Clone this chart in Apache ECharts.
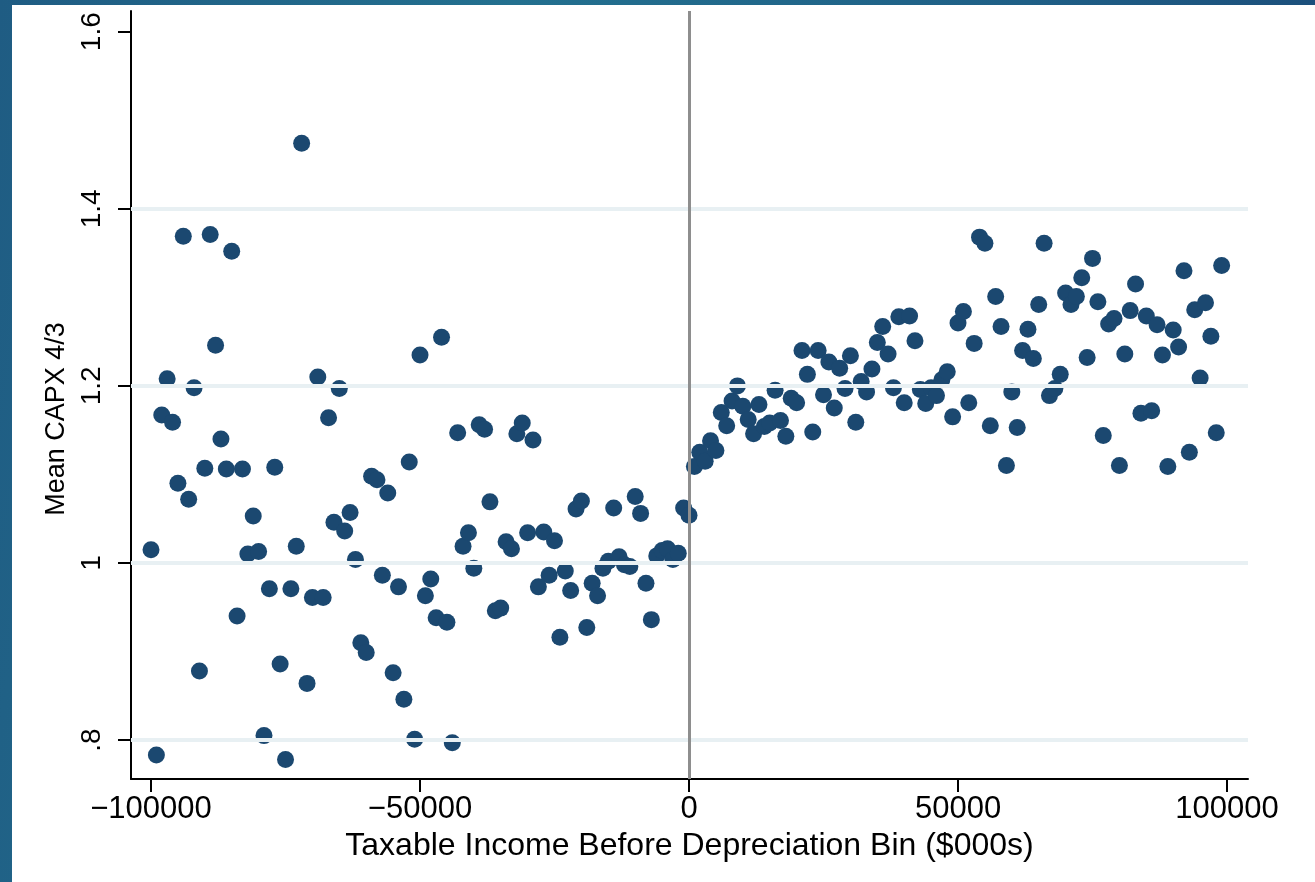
<!DOCTYPE html>
<html>
<head>
<meta charset="utf-8">
<title>Mean CAPX 4/3 by taxable income bin</title>
<script src="https://cdn.jsdelivr.net/npm/echarts@6/dist/echarts.min.js"></script>
<style>
  html, body { margin: 0; padding: 0; }
  body {
    width: 1315px; height: 882px; overflow: hidden; position: relative;
    background: linear-gradient(100deg, #1f5c83 0%, #23708f 35%, #1f5f86 70%, #1a4776 100%);
  }
  #panel { position: absolute; left: 12px; top: 5px; right: 0; bottom: 0; background: #ffffff; }
  #chart { position: absolute; left: 0; top: 0; width: 1315px; height: 882px; }
</style>
</head>
<body>
<div id="panel"></div>
<div id="chart"></div>
<script>
// bins of taxable income before depreciation ($000s)
const incomeBins = [
  -100000, -99000, -98000, -97000, -96000, -95000, -94000, -93000, -92000, -91000,
  -90000, -89000, -88000, -87000, -86000, -85000, -84000, -83000, -82000, -81000,
  -80000, -79000, -78000, -77000, -76000, -75000, -74000, -73000, -72000, -71000,
  -70000, -69000, -68000, -67000, -66000, -65000, -64000, -63000, -62000, -61000,
  -60000, -59000, -58000, -57000, -56000, -55000, -54000, -53000, -52000, -51000,
  -50000, -49000, -48000, -47000, -46000, -45000, -44000, -43000, -42000, -41000,
  -40000, -39000, -38000, -37000, -36000, -35000, -34000, -33000, -32000, -31000,
  -30000, -29000, -28000, -27000, -26000, -25000, -24000, -23000, -22000, -21000,
  -20000, -19000, -18000, -17000, -16000, -15000, -14000, -13000, -12000, -11000,
  -10000, -9000, -8000, -7000, -6000, -5000, -4000, -3000, -2000, -1000,
  0, 1000, 2000, 3000, 4000, 5000, 6000, 7000, 8000, 9000,
  10000, 11000, 12000, 13000, 14000, 15000, 16000, 17000, 18000, 19000,
  20000, 21000, 22000, 23000, 24000, 25000, 26000, 27000, 28000, 29000,
  30000, 31000, 32000, 33000, 34000, 35000, 36000, 37000, 38000, 39000,
  40000, 41000, 42000, 43000, 44000, 45000, 46000, 47000, 48000, 49000,
  50000, 51000, 52000, 53000, 54000, 55000, 56000, 57000, 58000, 59000,
  60000, 61000, 62000, 63000, 64000, 65000, 66000, 67000, 68000, 69000,
  70000, 71000, 72000, 73000, 74000, 75000, 76000, 77000, 78000, 79000,
  80000, 81000, 82000, 83000, 84000, 85000, 86000, 87000, 88000, 89000,
  90000, 91000, 92000, 93000, 94000, 95000, 96000, 97000, 98000, 99000
];

// mean CAPX 4/3 in each bin
const meanCapx = [
  1.015, 0.783, 1.167, 1.208, 1.159, 1.090, 1.369, 1.072, 1.198, 0.878,
  1.107, 1.371, 1.246, 1.140, 1.106, 1.352, 0.940, 1.106, 1.010, 1.053,
  1.013, 0.805, 0.971, 1.108, 0.886, 0.778, 0.971, 1.019, 1.474, 0.864,
  0.961, 1.210, 0.961, 1.164, 1.046, 1.197, 1.036, 1.057, 1.004, 0.910,
  0.899, 1.098, 1.094, 0.986, 1.079, 0.876, 0.973, 0.846, 1.114, 0.801,
  1.235, 0.963, 0.982, 0.938, 1.255, 0.933, 0.797, 1.147, 1.019, 1.034,
  0.994, 1.156, 1.151, 1.069, 0.946, 0.949, 1.024, 1.016, 1.146, 1.158,
  1.034, 1.139, 0.973, 1.035, 0.986, 1.025, 0.916, 0.991, 0.969, 1.061,
  1.070, 0.927, 0.977, 0.963, 0.994, 1.002, 1.062, 1.007, 0.998, 0.996,
  1.075, 1.056, 0.977, 0.936, 1.008, 1.014, 1.016, 1.004, 1.011, 1.062,
  1.054, 1.109, 1.125, 1.115, 1.138, 1.127, 1.170, 1.155, 1.183, 1.200,
  1.177, 1.162, 1.146, 1.179, 1.154, 1.158, 1.195, 1.161, 1.143, 1.186,
  1.181, 1.240, 1.213, 1.148, 1.240, 1.190, 1.227, 1.175, 1.220, 1.197,
  1.234, 1.159, 1.205, 1.193, 1.219, 1.249, 1.267, 1.236, 1.198, 1.278,
  1.181, 1.279, 1.251, 1.196, 1.180, 1.198, 1.189, 1.207, 1.216, 1.165,
  1.271, 1.284, 1.181, 1.248, 1.368, 1.361, 1.155, 1.301, 1.267, 1.110,
  1.193, 1.153, 1.240, 1.264, 1.231, 1.292, 1.361, 1.189, 1.197, 1.213,
  1.305, 1.292, 1.301, 1.322, 1.232, 1.344, 1.295, 1.144, 1.270, 1.276,
  1.110, 1.236, 1.285, 1.315, 1.169, 1.279, 1.172, 1.269, 1.235, 1.109,
  1.263, 1.244, 1.330, 1.125, 1.286, 1.209, 1.294, 1.256, 1.147, 1.336
];

// axis ticks and their labels (Stata style)
const xTicks = [-100000, -50000, 0, 50000, 100000];
const xTickLabels = ['\u2212100000', '\u221250000', '0', '50000', '100000'];
const yTicks = [0.8, 1, 1.2, 1.4, 1.6];
const yTickLabels = ['.8', '1', '1.2', '1.4', '1.6'];
const yGridLines = [0.8, 1, 1.2, 1.4];
const cutoff = 0;

const FONT = '"Liberation Sans", Arial, Helvetica, sans-serif';
const DOT = '#1b4870';

const chart = echarts.init(document.getElementById('chart'), null, { renderer: 'canvas' });

const points = incomeBins.map((x, i) => [x, meanCapx[i]]);

const guideLines = yGridLines.map(v => ({ yAxis: v }));
guideLines.push({ xAxis: cutoff, lineStyle: { color: '#8e8e8e', width: 3, type: 'solid' } });

const option = {
  backgroundColor: 'transparent',
  animation: false,
  textStyle: { fontFamily: FONT },
  grid: {
    left: 131,
    top: 11,
    width: 1117,
    height: 768,
    containLabel: false,
    outerBoundsMode: 'none'
  },
  xAxis: {
    type: 'value',
    min: -103720,
    max: 103900,
    name: 'Taxable Income Before Depreciation Bin ($000s)',
    nameLocation: 'middle',
    nameGap: 50,
    nameTextStyle: { color: '#000', fontSize: 32, fontFamily: FONT },
    axisLine: { show: true, onZero: false, lineStyle: { color: '#000', width: 2 } },
    axisTick: {
      show: true,
      length: 13,
      customValues: xTicks,
      lineStyle: { color: '#000', width: 2 }
    },
    axisLabel: {
      customValues: xTicks,
      margin: 15,
      color: '#000',
      fontSize: 31,
      fontFamily: FONT,
      formatter: v => xTickLabels[xTicks.indexOf(v)]
    },
    splitLine: { show: false }
  },
  yAxis: {
    type: 'value',
    min: 0.756,
    max: 1.6234,
    name: 'Mean CAPX 4/3',
    nameLocation: 'middle',
    nameGap: 60,
    nameTextStyle: { color: '#000', fontSize: 27, fontFamily: FONT, padding: [0, 48, 0, 0] },
    axisLine: { show: true, onZero: false, lineStyle: { color: '#000', width: 2 } },
    axisTick: {
      show: true,
      length: 13,
      customValues: yTicks,
      lineStyle: { color: '#000', width: 2 }
    },
    axisLabel: {
      customValues: yTicks,
      rotate: 90,
      margin: 25,
      color: '#000',
      fontSize: 28,
      fontFamily: FONT,
      formatter: v => yTickLabels[yTicks.indexOf(v)]
    },
    splitLine: { show: false }
  },
  series: [
    {
      name: 'guides',
      type: 'line',
      data: [],
      z: 1,
      silent: true,
      markLine: {
        silent: true,
        symbol: ['none', 'none'],
        label: { show: false },
        lineStyle: { color: '#e8f0f3', width: 4, type: 'solid' },
        emphasis: { disabled: true },
        data: guideLines
      }
    },
    {
      name: 'Mean CAPX 4/3',
      type: 'scatter',
      z: 3,
      symbol: 'circle',
      symbolSize: 17,
      itemStyle: { color: DOT, opacity: 1 },
      data: points
    }
  ]
};

chart.setOption(option);
window.addEventListener('resize', () => chart.resize());
</script>
</body>
</html>
